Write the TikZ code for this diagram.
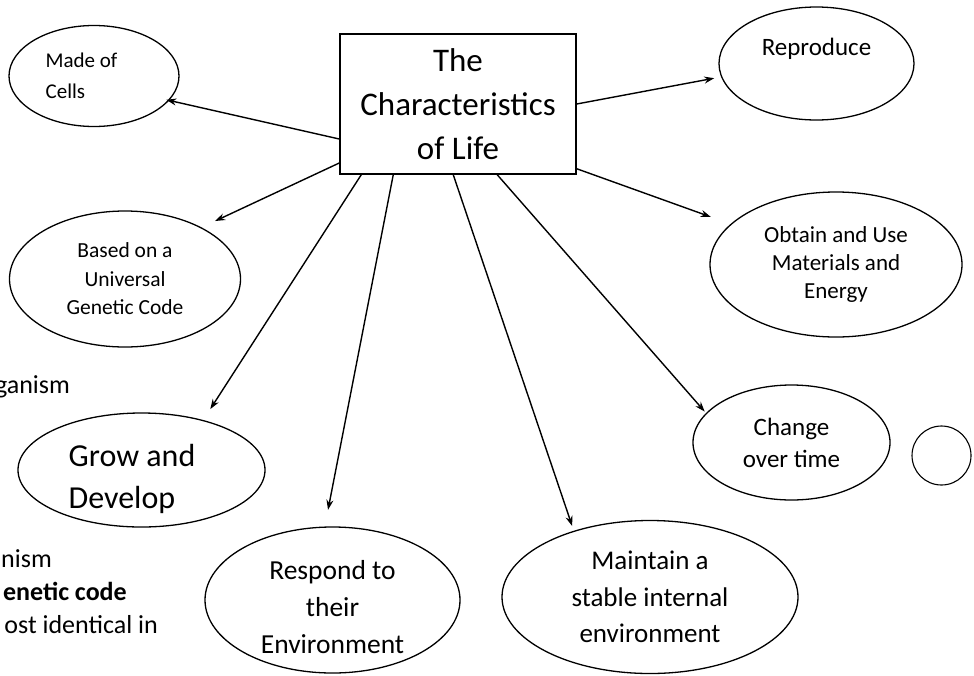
\documentclass[tikz,border=0pt]{standalone}
\usepackage{fontspec}
\setmainfont{Carlito}
\usetikzlibrary{arrows.meta,shapes.geometric}

\begin{document}
\begin{tikzpicture}[
    x=1pt, y=-1pt,
    % Style for the oval trait bubbles
    trait/.style={ellipse, draw=black, line width=1.3pt, inner sep=0pt, align=center},
    % Style for the central title box
    title box/.style={rectangle, draw=black, line width=1.5pt, inner sep=0pt, align=center,
        minimum width=236pt, minimum height=140pt, font=\fontsize{33}{44}\selectfont},
    % Style for the arrows leaving the title box
    link/.style={-{Stealth[length=10pt,width=7pt]}, line width=1.4pt},
    % Style for the cut-off slide text on the left
    back text/.style={anchor=base east, inner sep=0pt, font=\fontsize{26}{33}\selectfont}
]

    \useasboundingbox (0,0) rectangle (974,675);

    % --- 1. Cut-off text behind the diagram ---
    \node[back text] (cut1) at (70,393) {ganism};
    \node[back text] (cut2) at (52,567) {nism};
    \node[back text] (cut3) at (127,600) {\textbf{enetic code}};
    \node[back text] (cut4) at (158,633) {ost identical in};

    % --- 2. Central box ---
    \node[title box] (life) at (458,104) {The\\Characteristics\\of Life};

    % --- 3. Trait ovals ---
    \node[trait, minimum width=170pt, minimum height=101pt, align=left,
        font=\fontsize{21}{31}\selectfont] (cells) at (94,76) {Made of\hspace*{25pt}\\Cells};
    \node[trait, minimum width=231pt, minimum height=136pt,
        font=\fontsize{21.5}{28.5}\selectfont] (code) at (125,279) {Based on a\\Universal\\Genetic Code};
    \node[trait, minimum width=247pt, minimum height=114pt, align=left,
        text height=84pt, text depth=8pt, inner ysep=-10pt,
        font=\fontsize{32}{42}\selectfont] (grow) at (141.5,470) {Grow and\hspace*{19pt}\\Develop};
    \node[trait, minimum width=255pt, minimum height=146pt, text height=110pt, text depth=4pt,
        inner ysep=-10pt,
        font=\fontsize{27.5}{37}\selectfont] (respond) at (332.5,600) {Respond to\\their\\Environment};
    \node[trait, minimum width=296pt, minimum height=153pt,
        font=\fontsize{27}{36.5}\selectfont] (maintain) at (650,597) {Maintain a\\stable internal\\environment};
    \node[trait, minimum width=197pt, minimum height=115pt,
        font=\fontsize{25}{32}\selectfont] (change) at (791.5,442.5) {Change\\over time};
    \node[trait, minimum width=252pt, minimum height=145pt,
        font=\fontsize{23}{28}\selectfont] (obtain) at (836,264.5) {Obtain and Use\\Materials and\\Energy};
    \node[trait, minimum width=195pt, minimum height=113pt, text height=17pt, text depth=34pt,
        font=\fontsize{25}{32}\selectfont] (reproduce) at (816.5,63.5) {Reproduce};

    % empty circle on the right
    \node[circle, draw=black, line width=1.1pt, minimum size=59pt, inner sep=0pt] (spare) at (941.5,455.5) {};

    % --- 4. Arrows out of the box ---
    \draw[link, shorten >=-3pt] ([yshift=-35pt]life.west) -- (cells.-18);
    \draw[link, shorten >=15pt] ([yshift=-59pt]life.west) -- (code.34);
    \draw[link, shorten >=13pt] ([xshift=22pt]life.south west) -- (grow.39);
    \draw[link, shorten >=17pt] ([xshift=54pt]life.south west) -- (respond.96);
    \draw[link, shorten >=5pt] ([xshift=114pt]life.south west) -- (maintain.139.5);
    \draw[link, shorten >=2pt] ([xshift=158pt]life.south west) -- (change.161.6);
    \draw[link, shorten >=21pt] ([yshift=6pt]life.south east) -- (obtain.159.7);
    \draw[link, shorten >=7pt] (life.east) -- (reproduce.188.7);

\end{tikzpicture}
\end{document}
